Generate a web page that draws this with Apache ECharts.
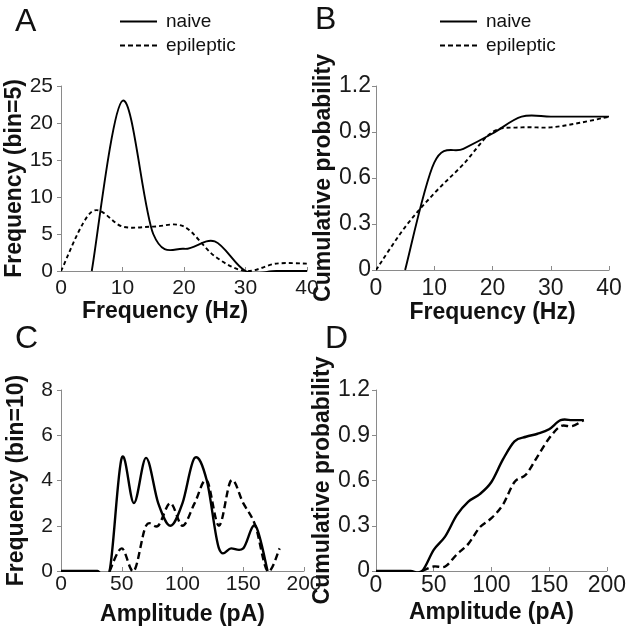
<!DOCTYPE html>
<html><head><meta charset="utf-8">
<script src="https://cdn.jsdelivr.net/npm/echarts@6/dist/echarts.min.js"></script>
<style>html,body{margin:0;padding:0;background:#fff}#c{width:629px;height:630px}</style>
</head><body><div id="c"></div>
<script>
// Panel A / B : frequency (Hz), bin = 5
const freqBins = [0, 5, 10, 15, 20, 25, 30, 35, 40];
const freqNaiveBins = [5, 10, 15, 20, 25, 30, 35, 40];
const freqNaiveCount = [0, 23, 5, 3, 4, 0, 0, 0];
const freqEpiCount = [0, 8, 6, 6, 6, 2, 0, 1, 1];
const freqNaiveCum = [0, 0.7, 0.79, 0.89, 1.0, 1.0, 1.0, 1.0];
const freqEpiCum = [0, 0.28, 0.5, 0.69, 0.9, 0.93, 0.93, 0.96, 1.0];
// Panel C / D : amplitude (pA), bin = 10
const ampNaiveBinsC = [0,10,20,30,40,50,60,70,80,90,100,110,120,130,140,150,160,170];
const ampNaiveCount = [0,0,0,0,0,5,3,5,3,2,3,5,4,1,1,1,2,0];
const ampEpiBins = [40,50,60,70,80,90,100,110,120,130,140,150,160,170,180];
const ampEpiCount = [0,1,0,2,2,3,2,3,4,2,4,3,2,0,1];
const ampNaiveBinsD = [0,10,20,30,40,50,60,70,80,90,100,110,120,130,140,150,160,170,180];
const ampNaiveCum = [0,0,0,0,0,0.14,0.23,0.37,0.46,0.51,0.59,0.74,0.86,0.89,0.91,0.94,1.0,1.0,1.0];
const ampEpiCum = [0,0.03,0.03,0.11,0.18,0.29,0.35,0.44,0.59,0.64,0.76,0.88,0.96,0.96,1.0];
// tick settings
const freqTicks = {min: 0, max: 40, interval: 10};
const countTicksA = {min: 0, max: 25, interval: 5};
const probTicks = {min: 0, max: 1.2, interval: 0.3};
const ampTicks = {min: 0, max: 200, interval: 50};
const countTicksC = {min: 0, max: 8, interval: 2};
const panelLetters = ['A', 'B', 'C', 'D'];
const seriesNames = ['naive', 'epileptic'];

const FONT = 'Liberation Sans, Arial, sans-serif';
const AX = '#8a8a8a';
const TITLE_SIZE = 23;
const zip = (xs, ys) => xs.map((x, i) => [x, ys[i]]);
const TOP_STYLE = {width: 1.9, dash: [4, 3]};
const BOTTOM_STYLE = {width: 2.4, dash: [7, 4]};

function nameStyle(extra) {
  return Object.assign({fontFamily: FONT, fontSize: TITLE_SIZE, fontWeight: 'bold', color: '#111'}, extra || {});
}
function labelStyle(size, margin) {
  return {fontFamily: FONT, fontSize: size, color: '#1a1a1a', margin: margin};
}
function xAxis(idx, t, name, opts) {
  return Object.assign({
    type: 'value', gridIndex: idx, min: t.min, max: t.max, interval: t.interval,
    name: name, nameLocation: 'middle', nameGap: 27,
    nameTextStyle: nameStyle(),
    axisLine: {show: true, lineStyle: {color: AX, width: 1}},
    axisTick: {show: true, inside: true, length: 4, lineStyle: {color: AX}},
    splitLine: {show: false},
    axisLabel: labelStyle(21, 7)
  }, opts || {});
}
function yAxis(idx, t, name, opts) {
  return Object.assign({
    type: 'value', gridIndex: idx, min: t.min, max: t.max, interval: t.interval,
    name: name, nameLocation: 'middle', nameGap: 33, nameRotate: 90,
    nameTextStyle: nameStyle(),
    axisLine: {show: true, lineStyle: {color: AX, width: 1}},
    axisTick: {show: true, inside: false, length: 4, lineStyle: {color: AX}},
    splitLine: {show: false},
    axisLabel: labelStyle(21, 8)
  }, opts || {});
}
// Smooth curve drawn through the axis scales (Catmull-Rom style smoothing of the data points)
function curve(name, idx, xs, ys, dashed, look) {
  return {
    type: 'custom', name: name, xAxisIndex: idx, yAxisIndex: idx,
    coordinateSystem: 'cartesian2d', data: zip(xs, ys), encode: {x: 0, y: 1},
    itemStyle: {color: '#000'}, silent: true,
    renderItem: function (params, api) {
      if (params.dataIndexInside !== 0) return null;
      const n = params.dataInsideLength;
      const p = [];
      for (let i = 0; i < n; i++) p.push(api.coord([api.value(0, i), api.value(1, i)]));
      const f = v => v.toFixed(2);
      let d = 'M' + f(p[0][0]) + ' ' + f(p[0][1]);
      for (let i = 0; i < n - 1; i++) {
        const p0 = p[Math.max(i - 1, 0)], p1 = p[i], p2 = p[i + 1], p3 = p[Math.min(i + 2, n - 1)];
        const c1x = p1[0] + (p2[0] - p0[0]) / 6, c1y = p1[1] + (p2[1] - p0[1]) / 6;
        const c2x = p2[0] - (p3[0] - p1[0]) / 6, c2y = p2[1] - (p3[1] - p1[1]) / 6;
        d += ' C' + f(c1x) + ' ' + f(c1y) + ' ' + f(c2x) + ' ' + f(c2y) + ' ' + f(p2[0]) + ' ' + f(p2[1]);
      }
      const cs = params.coordSys;
      return {
        type: 'path', shape: {pathData: d},
        style: {fill: null, stroke: '#000', lineWidth: look.width, lineDash: dashed ? look.dash : null},
        clipPath: {type: 'rect', shape: {x: cs.x, y: cs.y - 2, width: cs.width + 1, height: cs.height + 3}}
      };
    }
  };
}
const ICON_SOLID = 'path://M0,0H37V2H0Z';
const ICON_DASH = 'path://M0,0H5V2H0Z M8,0H13V2H8Z M16,0H21V2H16Z M24,0H29V2H24Z M32,0H37V2H32Z';
function legend(left) {
  return {
    data: [{name: seriesNames[0], icon: ICON_SOLID}, {name: seriesNames[1], icon: ICON_DASH}],
    orient: 'vertical', left: left, top: 12, padding: 0,
    itemWidth: 37, itemHeight: 2, itemGap: 5,
    textStyle: {fontFamily: FONT, fontSize: 19, color: '#111', padding: [0, 0, 0, 4]},
    selectedMode: false
  };
}

const chart = echarts.init(document.getElementById('c'), null, {renderer: 'canvas'});
chart.setOption({
  backgroundColor: '#fff',
  animation: false,
  title: [
    {text: panelLetters[0], left: 10, top: 1},
    {text: panelLetters[1], left: 310, top: -1},
    {text: panelLetters[2], left: 10, top: 318},
    {text: panelLetters[3], left: 320, top: 318}
  ].map(t => Object.assign(t, {textStyle: {fontFamily: FONT, fontSize: 32, fontWeight: 'normal', color: '#111'}})),
  legend: [legend(120), legend(440)],
  grid: [
    {left: 61, top: 86, width: 246, height: 185},
    {left: 376, top: 86, width: 233, height: 184},
    {left: 61, top: 390, width: 243, height: 181},
    {left: 376, top: 390, width: 236, height: 181}
  ],
  xAxis: [
    xAxis(0, freqTicks, 'Frequency (Hz)', {nameTextStyle: nameStyle({padding: [0, 38, 0, 0]})}),
    xAxis(1, freqTicks, 'Frequency (Hz)', {axisLabel: labelStyle(23, 7)}),
    xAxis(2, ampTicks, 'Amplitude (pA)', {nameGap: 32, axisLabel: labelStyle(21, 3)}),
    xAxis(3, ampTicks, 'Amplitude (pA)', {nameGap: 30, axisLabel: labelStyle(23, 3)})
  ],
  yAxis: [
    yAxis(0, countTicksA, 'Frequency (bin=5)'),
    yAxis(1, probTicks, 'Cumulative probability', {nameGap: 36, axisLabel: labelStyle(23, 5)}),
    yAxis(2, countTicksC, 'Frequency (bin=10)'),
    yAxis(3, probTicks, 'Cumulative probability', {nameGap: 38, axisLabel: labelStyle(23, 6)})
  ],
  series: [
    curve(seriesNames[0], 0, freqNaiveBins, freqNaiveCount, false, TOP_STYLE),
    curve(seriesNames[1], 0, freqBins, freqEpiCount, true, TOP_STYLE),
    curve(seriesNames[0], 1, freqNaiveBins, freqNaiveCum, false, TOP_STYLE),
    curve(seriesNames[1], 1, freqBins, freqEpiCum, true, TOP_STYLE),
    curve(seriesNames[0], 2, ampNaiveBinsC, ampNaiveCount, false, BOTTOM_STYLE),
    curve(seriesNames[1], 2, ampEpiBins, ampEpiCount, true, BOTTOM_STYLE),
    curve(seriesNames[0], 3, ampNaiveBinsD, ampNaiveCum, false, BOTTOM_STYLE),
    curve(seriesNames[1], 3, ampEpiBins, ampEpiCum, true, BOTTOM_STYLE)
  ]
});
</script></body></html>
